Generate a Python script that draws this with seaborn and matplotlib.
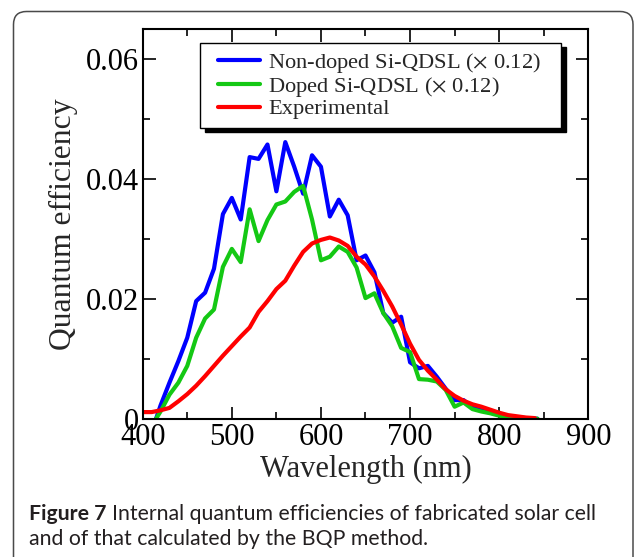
import matplotlib
matplotlib.use("Agg")
import matplotlib.pyplot as plt
import seaborn as sns
import pandas as pd
from matplotlib.patches import FancyBboxPatch
from matplotlib.transforms import IdentityTransform
from matplotlib.ticker import MultipleLocator, FixedLocator, FixedFormatter
from matplotlib.legend_handler import HandlerLine2D
from matplotlib.lines import Line2D

# ---------------- data ----------------
wl_nondoped = [415, 420, 430, 440, 450, 460, 470, 480, 490, 500, 510, 520, 530, 540,
               550, 560, 570, 580, 590, 600, 610, 620, 630, 640, 650, 660, 670, 680,
               690, 700, 710, 720, 730, 740, 750, 760, 770, 780, 790, 800, 810, 820,
               830, 843]
qe_nondoped = [0.0, 0.0022, 0.0060, 0.0096, 0.0135, 0.0196, 0.0210, 0.0250, 0.0341,
               0.0368, 0.0332, 0.0436, 0.0433, 0.0457, 0.0379, 0.0461, 0.0420, 0.0375,
               0.0439, 0.0420, 0.0337, 0.0365, 0.0339, 0.0264, 0.0272, 0.0244, 0.0176,
               0.0160, 0.0170, 0.0094, 0.0084, 0.0088, 0.0070, 0.0050, 0.0031, 0.0031,
               0.0019, 0.0014, 0.0010, 0.0007, 0.0004, 0.0002, 0.0001, 0.0]

wl_doped = [415, 420, 430, 440, 450, 460, 470, 480, 490, 500, 510, 520, 530, 540,
            550, 560, 570, 580, 590, 600, 610, 620, 630, 640, 650, 660, 670, 680,
            690, 700, 710, 720, 730, 740, 750, 760, 770, 780, 790, 800, 810, 820,
            830, 843]
qe_doped = [0.0, 0.0012, 0.0040, 0.0060, 0.0088, 0.0135, 0.0167, 0.0182, 0.0253,
            0.0283, 0.0261, 0.0349, 0.0296, 0.0331, 0.0357, 0.0362, 0.0378, 0.0388,
            0.0332, 0.0264, 0.0270, 0.0287, 0.0278, 0.0252, 0.0201, 0.0209, 0.0176,
            0.0154, 0.0118, 0.0111, 0.0066, 0.0065, 0.0062, 0.0048, 0.0020, 0.0027,
            0.0016, 0.0012, 0.0009, 0.0005, 0.0003, 0.0001, 0.0, 0.0]

wl_exp = [400, 410, 420, 430, 440, 450, 460, 470, 480, 490, 500, 510, 520, 530, 540,
          550, 560, 570, 580, 590, 600, 610, 620, 630, 640, 650, 660, 670, 680, 690,
          700, 710, 720, 730, 740, 750, 760, 770, 780, 790, 800, 810, 820, 830, 840]
qe_exp = [0.0011, 0.0011, 0.0014, 0.0018, 0.0029, 0.0041, 0.0055, 0.0071, 0.0088,
          0.0105, 0.0121, 0.0137, 0.0152, 0.0178, 0.0196, 0.0216, 0.0230, 0.0255,
          0.0278, 0.0292, 0.0298, 0.0302, 0.0297, 0.0288, 0.0270, 0.0257, 0.0237,
          0.0213, 0.0187, 0.0157, 0.0125, 0.0098, 0.0080, 0.0065, 0.0049, 0.0038,
          0.0030, 0.0024, 0.0020, 0.0015, 0.0010, 0.0006, 0.0004, 0.0002, 0.0001]

series_labels = ["Non-doped Si-QDSL ($\\times$ 0.12)", "Doped Si-QDSL ($\\times$ 0.12)",
                 "Experimental"]
series_colors = ["#0000ff", "#14c814", "#ff0000"]

x_ticks = [400, 500, 600, 700, 800, 900]
x_ticklabels = ["400", "500", "600", "700", "800", "900"]
y_ticks = [0.0, 0.02, 0.04, 0.06]
y_ticklabels = ["0", "0.02", "0.04", "0.06"]

x_label = "Wavelength (nm)"
y_label = "Quantum efficiency"
caption_bold = "Figure 7"
caption_line1 = "Internal quantum efficiencies of fabricated solar cell"
caption_line2 = "and of that calculated by the BQP method."

# ---------------- figure ----------------
sns.set_style("ticks")
plt.rcParams["font.family"] = ["Liberation Serif", "DejaVu Serif"]
plt.rcParams["mathtext.fontset"] = "stix"

W, H = 634, 557
fig = plt.figure(figsize=(W / 100, H / 100), dpi=100)
fig.patch.set_facecolor("white")

ax = fig.add_axes([142.7 / W, 1 - 418.7 / H, (588.3 - 142.7) / W, (418.7 - 28.7) / H])
ax.set_facecolor("white")

data_sets = [(wl_nondoped, qe_nondoped), (wl_doped, qe_doped), (wl_exp, qe_exp)]
for (xs, ys), lab, col in zip(data_sets, series_labels, series_colors):
    df = pd.DataFrame({"wl": xs, "qe": ys})
    sns.lineplot(data=df, x="wl", y="qe", ax=ax, color=col, lw=3.0, label=lab,
                 sort=False, estimator=None)

ax.set_xlim(400, 900)
ax.set_ylim(0, 0.065)
ax.xaxis.set_major_locator(FixedLocator(x_ticks))
ax.xaxis.set_major_formatter(FixedFormatter(x_ticklabels))
ax.yaxis.set_major_locator(FixedLocator(y_ticks))
ax.yaxis.set_major_formatter(FixedFormatter(y_ticklabels))
ax.xaxis.set_minor_locator(MultipleLocator(50))
ax.yaxis.set_minor_locator(MultipleLocator(0.01))

for s in ax.spines.values():
    s.set_visible(True)
    s.set_linewidth(1.5)
    s.set_color("black")

ax.tick_params(which="both", direction="in", top=True, right=True, colors="black",
               width=1.2, labelsize=22)
ax.tick_params(which="major", length=9, pad=3)
ax.tick_params(which="minor", length=5)

ax.set_xlabel(x_label, fontsize=22, labelpad=2)
ax.set_ylabel(y_label, fontsize=22.8, labelpad=5)

# legend
lx0 = (200 - 142.7) / (588.3 - 142.7)
lx1 = (561 - 142.7) / (588.3 - 142.7)
ly1 = (418.7 - 42.6) / (418.7 - 28.7)
leg = ax.legend(loc="upper left", bbox_to_anchor=(lx0, 0, lx1 - lx0, ly1), mode="expand",
                borderaxespad=0, fontsize=16.2, frameon=True, fancybox=False,
                handlelength=2.3, handletextpad=0.36, borderpad=0.36, labelspacing=0.0,
                handler_map={Line2D: HandlerLine2D(xpad=0.42)},
                shadow={"ox": 3.5, "oy": -3.5, "facecolor": "black", "edgecolor": "black",
                        "alpha": 1.0})
leg.get_frame().set_edgecolor("black")
leg.get_frame().set_linewidth(1.0)
leg.get_frame().set_alpha(1.0)
for line in leg.get_lines():
    line.set_linewidth(3.0)

# outer rounded frame
frame = FancyBboxPatch((13.5, -30), 633 - 13.5, (H - 11.5) + 30,
                       boxstyle="round,pad=0,rounding_size=13",
                       transform=IdentityTransform(), facecolor="none",
                       edgecolor="#4a4a4a", linewidth=1.1, zorder=-1)
fig.patches.append(frame)

# caption
cap_font = ["Lato", "DejaVu Sans"]
cap_color = "#231f20"
fig.canvas.draw()
renderer = fig.canvas.get_renderer()
target_w = 596 - 29
fs = 14
for _ in range(3):
    tb = fig.text(0, 0, caption_bold + " ", fontsize=fs, fontweight="bold", family=cap_font)
    tr = fig.text(0, 0, caption_line1, fontsize=fs, family=cap_font)
    wtot = tb.get_window_extent(renderer).width + tr.get_window_extent(renderer).width
    tb.remove(); tr.remove()
    fs = fs * target_w / wtot

x0 = 29 / W
b1 = 1 - 520 / H
b2 = 1 - 545 / H
tb = fig.text(x0, b1, caption_bold + " ", fontsize=fs, fontweight="bold", family=cap_font,
              color=cap_color, va="baseline", ha="left")
bw = tb.get_window_extent(renderer).width
fig.text(x0 + bw / W, b1, caption_line1, fontsize=fs, family=cap_font, color=cap_color,
         va="baseline", ha="left")
fig.text(x0, b2, caption_line2, fontsize=fs, family=cap_font, color=cap_color,
         va="baseline", ha="left")

fig.savefig("out.png", dpi=100)
